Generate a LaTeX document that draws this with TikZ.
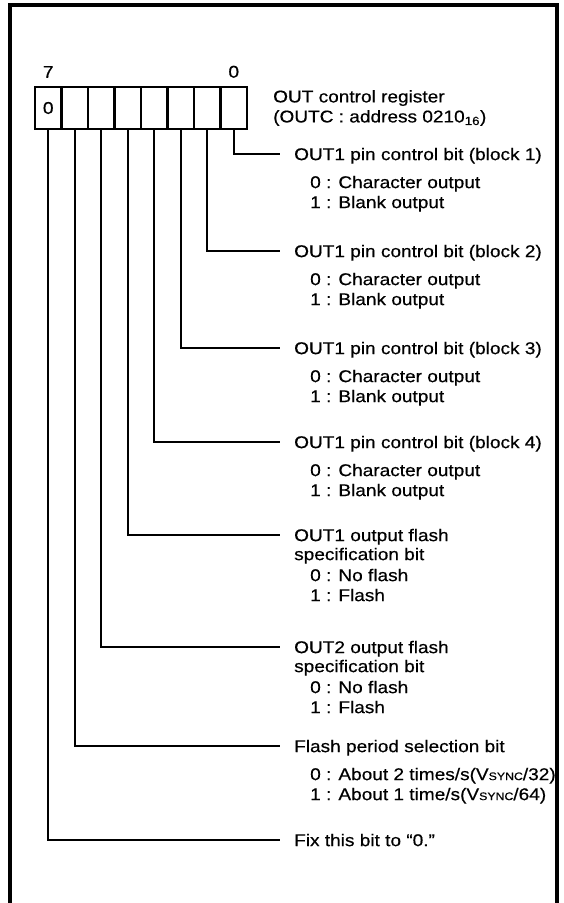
\documentclass[tikz,border=0pt]{standalone}
\usepackage{fontspec}
\setmainfont{Liberation Sans}[FakeStretch=1.12, FakeBold=0.5]
\usetikzlibrary{positioning,calc}
\tikzset{
  cell/.style={draw, line width=2.4pt, minimum width=26.5pt, minimum height=42pt,
               inner sep=0pt, outer sep=0pt},
  bitno/.style={inner sep=0pt},
  head/.style={anchor=west, inner xsep=14pt, inner ysep=0pt, text height=12.2pt, text depth=0pt},
  sub/.style={anchor=base west, inner sep=0pt, align=left},
  l/.style={line width=2pt},
}
\newcommand{\vsync}{V{\fontsize{11}{11}\selectfont SYNC}}

\begin{document}
\begin{tikzpicture}[x=1pt, y=-1pt, font=\fontsize{17}{20}\selectfont]
  \useasboundingbox (0,0) rectangle (564,903);
  % frame, open at the foot
  \draw[line width=3.5pt] (10,903) |- (557,5) -- (557,903);
  % register cells, bit 0 on the right
  \foreach \i in {0,...,7}
    \node[cell] (c\i) at ({233.75-26.5*\i},108) {\ifnum\i=7 0\fi};
  \node[bitno, above=9pt of c7] (n7) {7};
  \node[bitno, above=9pt of c0] (n0) {0};
  \node[right=26pt of c0, align=left, inner sep=0pt] (reg)
    {OUT control register\\(OUTC : address 0210\textsubscript{16})};

  % bit descriptions (item nodes hang from their last line)
  \node[head] (t0) at (280,154) {OUT1 pin control bit (block 1)};
  \node[sub] (v0) at ($(t0.base west)+(30,48)$) {0 : Character output\\1 : Blank output};
  \node[head] (t1) at (280,251) {OUT1 pin control bit (block 2)};
  \node[sub] (v1) at ($(t1.base west)+(30,48)$) {0 : Character output\\1 : Blank output};
  \node[head] (t2) at (280,348) {OUT1 pin control bit (block 3)};
  \node[sub] (v2) at ($(t2.base west)+(30,48)$) {0 : Character output\\1 : Blank output};
  \node[head] (t3) at (280,442) {OUT1 pin control bit (block 4)};
  \node[sub] (v3) at ($(t3.base west)+(30,48)$) {0 : Character output\\1 : Blank output};
  \node[head] (t4) at (280,535) {OUT1 output flash};
  \node[head, anchor=base west] (s4) at ($(t4.base west)+(0,19)$) {specification bit};
  \node[sub] (v4) at ($(t4.base west)+(30,60)$) {0 : No flash\\1 : Flash};
  \node[head] (t5) at (280,647) {OUT2 output flash};
  \node[head, anchor=base west] (s5) at ($(t5.base west)+(0,19)$) {specification bit};
  \node[sub] (v5) at ($(t5.base west)+(30,60)$) {0 : No flash\\1 : Flash};
  \node[head] (t6) at (280,746) {Flash period selection bit};
  \node[sub] (v6) at ($(t6.base west)+(30,48)$)
    {0 : About 2 times/s(\vsync/32)\\1 : About 1 time/s(\vsync/64)};
  \node[head] (t7) at (280,840) {Fix this bit to “0.”};

  \foreach \i in {0,...,7}
    \draw[l] (c\i.south) |- (t\i.west);
\end{tikzpicture}
\end{document}
